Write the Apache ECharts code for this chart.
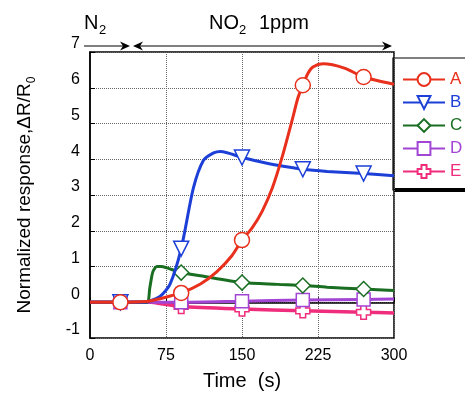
<!DOCTYPE html>
<html>
<head>
<meta charset="utf-8">
<script src="https://cdn.jsdelivr.net/npm/echarts@6/dist/echarts.min.js"></script>
<style>
  html, body { margin: 0; padding: 0; background: #fff; }
  #chart { width: 465px; height: 396px; }
</style>
</head>
<body>
<div id="chart"></div>
<script>
// response curves (time in s, normalized response)
const timeA = [0, 30, 56, 69, 90, 109, 125, 140, 150, 160, 170, 180, 190, 200, 205, 210, 215, 220, 230, 251, 270, 300];
const valA = [0, 0, 0.02, 0.1, 0.26, 0.51, 0.85, 1.3, 1.74, 2.08, 2.55, 3.2, 4.1, 5.15, 5.7, 6.07, 6.4, 6.58, 6.67, 6.55, 6.3, 6.1];

const timeB = [0, 30, 53, 69, 79, 90, 102, 112, 122, 129, 150, 168, 185, 210, 234, 270, 300];
const valB = [0, 0, 0, 0.16, 0.51, 1.5, 3.19, 3.97, 4.18, 4.22, 4.05, 3.93, 3.83, 3.72, 3.66, 3.6, 3.54];

const timeC = [0, 30, 56, 59, 62, 66, 70, 76, 90, 109, 150, 185, 210, 234, 270, 300];
const valC = [0, 0, 0, 0.4, 0.85, 1.0, 1.0, 0.96, 0.83, 0.74, 0.55, 0.5, 0.47, 0.42, 0.37, 0.33];

const timeD = [0, 30, 60, 90, 150, 210, 270, 300];
const valD = [0, 0, 0, 0.0, 0.03, 0.06, 0.08, 0.09];

const timeE = [0, 30, 60, 70, 90, 150, 210, 270, 300];
const valE = [0, 0, 0, -0.04, -0.12, -0.19, -0.24, -0.28, -0.3];

const markerTimes = [30, 90, 150, 210, 270];
const xTicks = [0, 75, 150, 225, 300];

const font = "'Liberation Sans', Arial, sans-serif";
const plusPath = "path://M3,0H7V3H10V7H7V10H3V7H0V3H3Z";

function pts(ts, vs) {
  return ts.map((t, i) => {
    const p = { value: [t, vs[i]] };
    if (markerTimes.indexOf(t) < 0) p.symbol = "none";
    return p;
  });
}

function curve(name, ts, vs, color, symbol, size, z, extra) {
  return Object.assign({
    name: name,
    type: "line",
    data: pts(ts, vs),
    smooth: 0.25,
    symbol: symbol,
    symbolSize: size,
    showAllSymbol: true,
    z: z,
    lineStyle: { color: color, width: 3 },
    itemStyle: { color: "#fff", borderColor: color, borderWidth: 1.5 },
    emphasis: { disabled: true },
  }, extra || {});
}

const colA = "#e8301c", colB = "#1c3fd8", colC = "#1a6e22", colD = "#a244d4", colE = "#ef2d7c";

const chart = echarts.init(document.getElementById("chart"), null, { renderer: "canvas" });

const arrowHead = (tipX, y, dir) => ({
  type: "polygon",
  shape: { points: [[tipX, y], [tipX - dir * 10, y - 4.5], [tipX - dir * 7, y], [tipX - dir * 10, y + 4.5]] },
  style: { fill: "#000" },
});

const option = {
  animation: false,
  backgroundColor: "#fff",
  textStyle: { fontFamily: font },
  grid: { left: 90, right: 71, top: 52, bottom: 54, show: true, borderColor: "#000", borderWidth: 1.5 },
  xAxis: {
    type: "value",
    min: 0,
    max: 300,
    interval: 75,
    name: "Time  (s)",
    nameLocation: "middle",
    nameGap: 33,
    nameTextStyle: { fontSize: 20, color: "#000", fontFamily: font },
    axisLine: { lineStyle: { color: "#000", width: 1.5 } },
    axisTick: { inside: true, length: 5, lineStyle: { color: "#000" } },
    axisLabel: { fontSize: 16, color: "#000", margin: 10, fontFamily: font,
      formatter: (v) => (xTicks.indexOf(v) >= 0 ? String(v) : "") },
    splitLine: { show: true, lineStyle: { color: "#666", type: [1, 1], width: 1 } },
  },
  yAxis: {
    type: "value",
    min: -1,
    max: 7,
    interval: 1,
    name: "{a|Normalized response,\u0394R/R}{b|0}",
    nameLocation: "middle",
    nameGap: 52,
    nameTextStyle: {
      color: "#000",
      fontFamily: font,
      rich: {
        a: { fontSize: 19, lineHeight: 26, verticalAlign: "middle", color: "#000", fontFamily: font },
        b: { fontSize: 12, lineHeight: 12, verticalAlign: "bottom", color: "#000", fontFamily: font },
      },
    },
    axisLine: { lineStyle: { color: "#000", width: 1.5 } },
    axisTick: { inside: true, length: 5, lineStyle: { color: "#000" } },
    axisLabel: { fontSize: 16, color: "#000", margin: 10, verticalAlign: "bottom", fontFamily: font },
    splitLine: { show: true, lineStyle: { color: "#666", type: [1, 1], width: 1 } },
  },
  legend: {
    orient: "vertical",
    left: 402,
    top: 71,
    padding: 0,
    itemWidth: 42,
    itemHeight: 16,
    itemGap: 6,
    textStyle: { fontSize: 17, fontFamily: font },
    data: [
      { name: "A", textStyle: { color: colA } },
      { name: "B", textStyle: { color: colB } },
      { name: "C", textStyle: { color: colC } },
      { name: "D", textStyle: { color: colD } },
      { name: "E", textStyle: { color: colE } },
    ],
  },
  graphic: [
    // legend frame
    { type: "rect", shape: { x: 393, y: 58, width: 90, height: 132 }, style: { fill: "#fff", stroke: "#000", lineWidth: 1.2 }, z: -1 },
    { type: "line", shape: { x1: 394, y1: 190, x2: 465, y2: 190 }, style: { stroke: "#000", lineWidth: 4 } },
    // gas annotations
    { type: "text", left: 84, top: 13, style: { text: "N", fontSize: 20, fill: "#000", fontFamily: font } },
    { type: "text", left: 99, top: 24, style: { text: "2", fontSize: 13, fill: "#000", fontFamily: font } },
    { type: "text", left: 209, top: 13, style: { text: "NO", fontSize: 20, fill: "#000", fontFamily: font } },
    { type: "text", left: 239, top: 24, style: { text: "2", fontSize: 13, fill: "#000", fontFamily: font } },
    { type: "text", left: 259, top: 13, style: { text: "1ppm", fontSize: 20, fill: "#000", fontFamily: font } },
    { type: "line", shape: { x1: 84, y1: 46, x2: 124, y2: 46 }, style: { stroke: "#000", lineWidth: 1.2 } },
    arrowHead(130, 46, 1),
    { type: "line", shape: { x1: 139, y1: 46, x2: 386, y2: 46 }, style: { stroke: "#000", lineWidth: 1.2 } },
    arrowHead(133, 46, -1),
    arrowHead(392, 46, 1),
  ],
  series: [
    curve("A", timeA, valA, colA, "circle", 15, 6),
    curve("B", timeB, valB, colB, "triangle", 15, 5, { symbolRotate: 180 }),
    curve("C", timeC, valC, colC, "diamond", 15, 4),
    curve("D", timeD, valD, colD, "rect", 13, 3),
    curve("E", timeE, valE, colE, plusPath, 14, 2, { lineStyle: { color: colE, width: 3.5 } }),
  ],
};

chart.setOption(option);
</script>
</body>
</html>
